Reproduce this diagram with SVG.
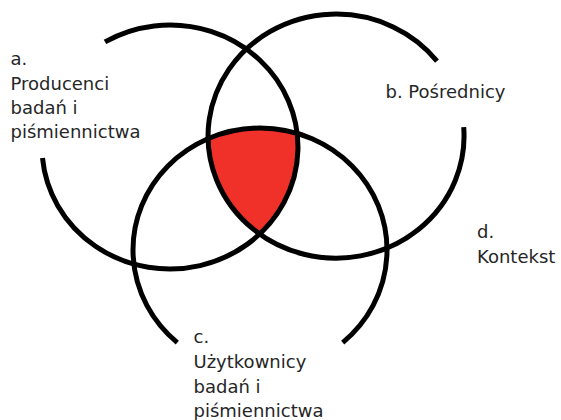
<svg xmlns="http://www.w3.org/2000/svg" width="561" height="420" viewBox="0 0 561 420">
  <style>
    .ring { fill: none; stroke: #000; stroke-width: 5; }
    .label { font-family: "DejaVu Sans", "Liberation Sans", sans-serif; font-size: 18px; fill: #262626; }
  </style>
  <defs>
    <clipPath id="clipB"><ellipse cx="336" cy="136" rx="128" ry="122"/></clipPath>
    <clipPath id="clipC"><ellipse cx="260" cy="250" rx="127" ry="122"/></clipPath>
  </defs>
  <rect width="561" height="420" fill="#fff"/>

  <!-- shared core of all three sets -->
  <g id="core" clip-path="url(#clipB)">
    <ellipse cx="170" cy="147" rx="128" ry="122" fill="#ef3129" clip-path="url(#clipC)"/>
  </g>

  <g id="rings">
    <path id="ring-a" class="ring" d="M 42.5 158.1 A 128 122 0 1 0 105 41.9"/>
    <path id="ring-b" class="ring" d="M 463.7 127.1 A 128 122 0 1 1 437 61.1"/>
    <path id="ring-c" class="ring" d="M 342.7 342.6 A 127 122 0 1 0 177.3 342.6"/>
  </g>

  <g id="node-a">
    <text class="label" x="10.5" y="65">a.</text>
    <text class="label" x="10.5" y="89.5">Producenci</text>
    <text class="label" x="10.5" y="114">badań i</text>
    <text class="label" x="10.5" y="138">piśmiennictwa</text>
  </g>
  <g id="node-b">
    <text class="label" x="385.5" y="98">b. Pośrednicy</text>
  </g>
  <g id="node-c">
    <text class="label" x="193.5" y="343">c.</text>
    <text class="label" x="193.5" y="368">Użytkownicy</text>
    <text class="label" x="193.5" y="393">badań i</text>
    <text class="label" x="193.5" y="417">piśmiennictwa</text>
  </g>
  <g id="node-d">
    <text class="label" x="477" y="238">d.</text>
    <text class="label" x="477" y="263">Kontekst</text>
  </g>
</svg>
